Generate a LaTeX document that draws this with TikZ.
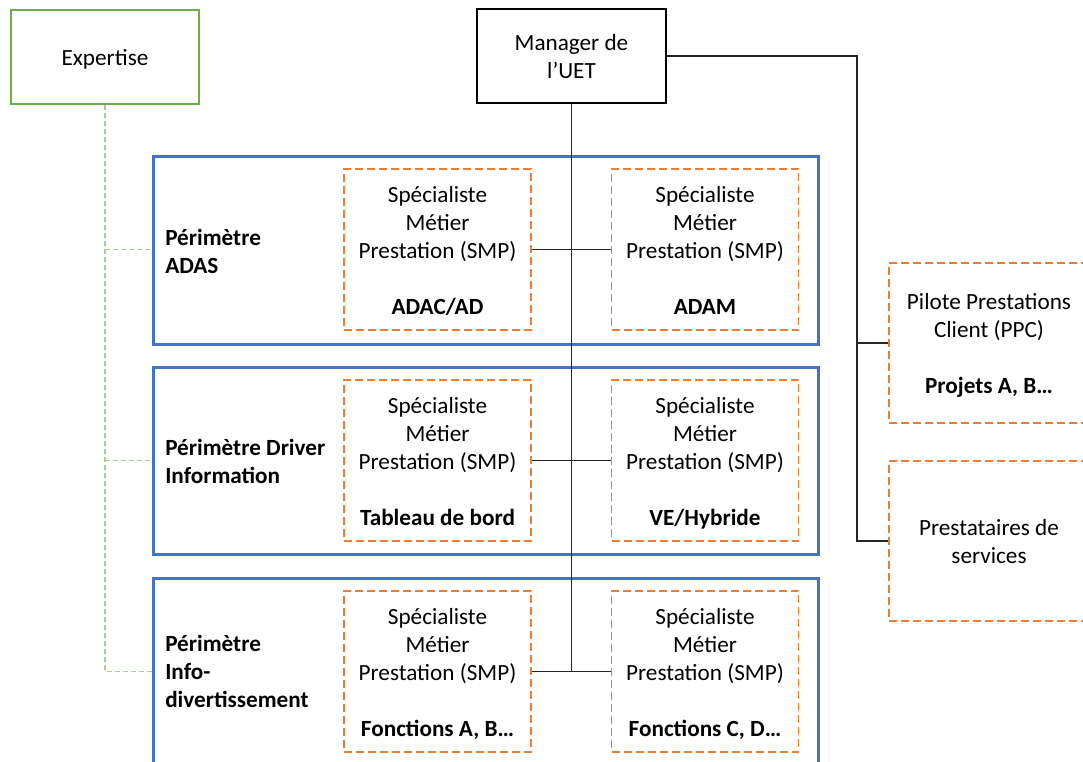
\documentclass[tikz,border=0pt]{standalone}
\usepackage{fontspec}
\setmainfont{Carlito}
\usetikzlibrary{calc}

\definecolor{uetblue}{HTML}{4472C4}
\definecolor{uetorange}{HTML}{ED7D31}
\definecolor{uetgreen}{HTML}{70AD47}
\definecolor{uetlightgreen}{HTML}{A9D18E}
\newcommand{\topstrut}{\rule{0pt}{19.2pt}}

\begin{document}
\begin{tikzpicture}[x=0.75pt,y=-0.75pt,
    font=\fontsize{17.4}{21}\selectfont,
    box/.style={draw, line width=1.5pt, inner sep=0pt, align=center},
    perim/.style={draw=uetblue, line width=2.25pt, minimum width=665*0.75pt, inner sep=0pt},
    smp/.style={draw=uetorange, line width=1.4pt, dash pattern=on 6pt off 3pt,
        minimum width=187*0.75pt, minimum height=161*0.75pt, inner sep=0pt, align=center},
    label/.style={anchor=west, align=left, inner sep=0pt, font=\fontsize{17.4}{21}\selectfont\bfseries},
    link/.style={draw=black!85, line width=0.8pt},
    expline/.style={draw=uetlightgreen, line width=0.9pt, dash pattern=on 3.75pt off 2.25pt}]
    \clip (0,0) rectangle (1083,762);

    \node (exp) at (105,57) [box, draw=uetgreen, minimum width=188*0.75pt, minimum height=94*0.75pt] {\topstrut Expertise\strut};
    \node (mgr) at (571.5,56) [box, minimum width=189*0.75pt, minimum height=94*0.75pt] {\topstrut Manager de\\l’UET\strut};

    \node (p1) at (485.5,251) [perim, minimum height=188*0.75pt] {};
    \node (p2) at (485.5,461.5) [perim, minimum height=187*0.75pt] {};
    \node (p3) at (485.5,673) [perim, minimum height=188*0.75pt] {};

    \node at (165,251) [label] {\topstrut Périmètre\\ADAS\strut};
    \node at (165,461) [label] {\topstrut Périmètre Driver\\Information\strut};
    \node at (165,671) [label] {\topstrut Périmètre\\Info-\\divertissement\strut};

    \node (l1) at (437.5,249.5) [smp] {\topstrut Spécialiste\\Métier\\Prestation (SMP)\\[21pt]\textbf{ADAC/AD}\strut};
    \node (r1) at (705,249.5) [smp] {\topstrut Spécialiste\\Métier\\Prestation (SMP)\\[21pt]\textbf{ADAM}\strut};
    \node (l2) at (437.5,460.5) [smp] {\topstrut Spécialiste\\Métier\\Prestation (SMP)\\[21pt]\textbf{Tableau de bord}\strut};
    \node (r2) at (705,460.5) [smp] {\topstrut Spécialiste\\Métier\\Prestation (SMP)\\[21pt]\textbf{VE/Hybride}\strut};
    \node (l3) at (437.5,671.5) [smp] {\topstrut Spécialiste\\Métier\\Prestation (SMP)\\[21pt]\textbf{Fonctions A, B…}\strut};
    \node (r3) at (705,671.5) [smp] {\topstrut Spécialiste\\Métier\\Prestation (SMP)\\[21pt]\textbf{Fonctions C, D…}\strut};

    \node (ppc) at (989,343) [smp, minimum width=200*0.75pt, minimum height=160*0.75pt] {\topstrut Pilote Prestations\\Client (PPC)\\[21pt]\textbf{Projets A, B…}\strut};
    \node (pres) at (989,541) [smp, minimum width=200*0.75pt, minimum height=160*0.75pt] {\topstrut Prestataires de\\services\strut};

    \coordinate (mr) at (857,56);

    \draw[link] (l1.east) -- (r1.west);
    \draw[link] (l2.east) -- (r2.west);
    \draw[link] (l3.east) -- (r3.west);
    \draw[link] (mgr.south) -- (mgr.south |- l3.east);
    \draw[link] (mgr.east) -- (mr) -- (mr |- pres.west) -- (pres.west);
    \draw[link] (mr |- ppc.west) -- (ppc.west);

    \draw[expline] (exp.south) -- (exp.south |- l3.east) -- (p3.west |- l3.east);
    \draw[expline] (exp.south |- l1.east) -- (p1.west |- l1.east);
    \draw[expline] (exp.south |- l2.east) -- (p2.west |- l2.east);
  \end{tikzpicture}
\end{document}
